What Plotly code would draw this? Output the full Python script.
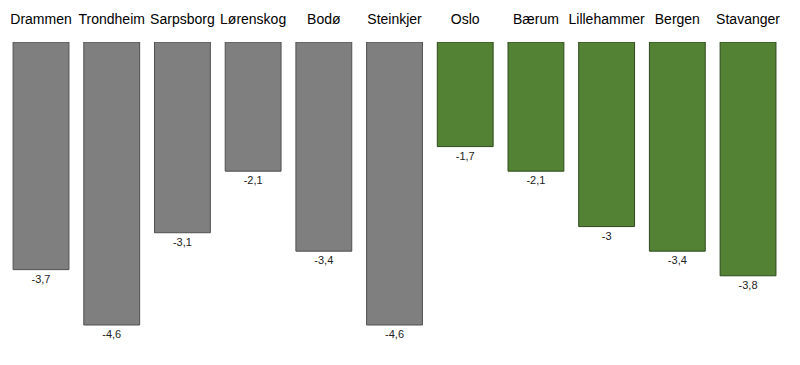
import plotly.graph_objects as go

cities = ["Drammen", "Trondheim", "Sarpsborg", "Lørenskog", "Bodø", "Steinkjer",
          "Oslo", "Bærum", "Lillehammer", "Bergen", "Stavanger"]
values = [-3.7, -4.6, -3.1, -2.1, -3.4, -4.6, -1.7, -2.1, -3.0, -3.4, -3.8]
labels = ["-3,7", "-4,6", "-3,1", "-2,1", "-3,4", "-4,6", "-1,7", "-2,1", "-3", "-3,4", "-3,8"]
groups = ["gray"] * 6 + ["green"] * 5

fill = {"gray": "#7f7f7f", "green": "#548235"}
edge = {"gray": "#505050", "green": "#2f4a1e"}

fig = go.Figure(go.Bar(
    x=cities, y=values,
    marker=dict(color=[fill[g] for g in groups],
                line=dict(color=[edge[g] for g in groups], width=1)),
    text=labels, textposition="outside",
    textfont=dict(family="Liberation Sans, Arial, sans-serif", size=11, color="#222222"),
    cliponaxis=False,
))

fig.update_layout(
    width=792, height=357,
    margin=dict(l=0, r=0, t=34, b=0),
    paper_bgcolor="white", plot_bgcolor="white",
    bargap=0.21,
    showlegend=False,
    xaxis=dict(side="top", showgrid=False, zeroline=False, showline=False, ticks="",
               tickangle=0, automargin=False, range=[-0.467, 10.735],
               tickfont=dict(family="Liberation Sans, Arial, sans-serif", size=14, color="#000000"),
               ticklabelstandoff=14),
    yaxis=dict(range=[-5.25, 0], visible=False, showgrid=False, zeroline=False,
               automargin=False),
)

fig.write_html("out.html")
